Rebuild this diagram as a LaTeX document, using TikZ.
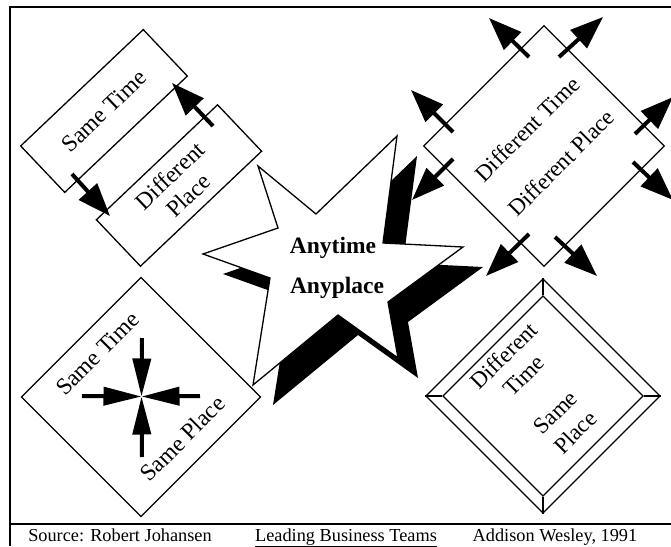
\documentclass[tikz,border=0pt]{standalone}
\usepackage{fontspec}
\setmainfont{Liberation Serif}
\usetikzlibrary{arrows.meta}
\begin{document}
\begin{tikzpicture}[x=1pt,y=-1pt,
  frameline/.style={line width=1.8pt},
  shapebox/.style={draw, line width=1.3pt, fill=white, inner sep=0pt},
  lbl/.style={font=\fontsize{23.5}{27}\selectfont},
  bigarrow/.style={line width=4pt, -{Triangle[length=33pt,width=24pt]}},
  ctrarrow/.style={line width=4pt, -{Triangle[length=38pt,width=18pt]}},
  foot/.style={font=\fontsize{18.3}{22}\selectfont, inner sep=0pt},
  startext/.style={font=\fontsize{23.5}{28}\selectfont\bfseries, inner sep=0pt}]
\useasboundingbox (0,0) rectangle (671,546);
% frame
\draw[frameline] (10,546) -- (10,7) -- (671,7);
\draw[frameline] (10,524) -- (671,524);
% top-left rectangles
\node[shapebox, lbl, rotate=43.5, minimum width=169pt, minimum height=64pt] (st) at (104,111) {Same Time};
\node[shapebox, lbl, rotate=43.5, minimum width=167pt, minimum height=64pt, align=center] (dp) at (179,185.5) {Different\\Place};
\draw[bigarrow] (72,174) -- (110,216);
\draw[bigarrow] (213,126) -- (172,83);
% top-right diamond
\node[shapebox, rotate=45, minimum size=170pt, align=center, font=\fontsize{23}{48}\selectfont] (dd) at (544,146) {Different Time\\Different Place};
\draw[bigarrow] (529,57) -- (489,18);
\draw[bigarrow] (559,57) -- (603,17);
\draw[bigarrow] (453,132) -- (411,90);
\draw[bigarrow] (635,134) -- (673,97);
\draw[bigarrow] (453,159) -- (412,200);
\draw[bigarrow] (633,162) -- (673,200);
\draw[bigarrow] (529,234) -- (486,276);
\draw[bigarrow] (555,237) -- (597,276);
% bottom-left diamond
\node[shapebox, rotate=45, minimum size=169pt] (ss) at (141,397) {};
\node[lbl, rotate=45] (sst) at (97.6,353.6) {Same Time};
\node[lbl, rotate=45] (ssp) at (182.4,438.4) {Same Place};
\coordinate (ctr) at (141.5,396.5);
\draw[ctrarrow] (142,338) -- (ctr);
\draw[ctrarrow] (142,457) -- (ctr);
\draw[ctrarrow] (82,396) -- (ctr);
\draw[ctrarrow] (200,396) -- (ctr);
% bottom-right beveled diamond
\node[shapebox, rotate=45, minimum size=165.5pt] (bo) at (543,396) {};
\node[shapebox, rotate=45, minimum size=141.5pt] (bi) at (543,396) {};
\draw[line width=1.3pt] (bo.north east) -- (bi.north east)
  (bo.north west) -- (bi.north west)
  (bo.south west) -- (bi.south west)
  (bo.south east) -- (bi.south east);
\node[rotate=45, align=center, font=\fontsize{23}{28}\selectfont] (dt) at (513.5,365.5) {Different\\Time};
\node[rotate=45, align=center, font=\fontsize{23}{28}\selectfont] (sp) at (565.5,422.5) {Same\\Place};
% star with shadow
\fill[black, shift={(20,20)}] (258,166) -- (316,214) -- (397,136) -- (383,243) -- (463,247) -- (388,302) -- (398,358) -- (338,315) -- (253,385) -- (270,278) -- (203,254) -- (278,228) -- cycle;
\draw[line width=1.3pt, fill=white] (258,166) -- (316,214) -- (397,136) -- (383,243) -- (463,247) -- (388,302) -- (398,358) -- (338,315) -- (253,385) -- (270,278) -- (203,254) -- (278,228) -- cycle;
\node[startext, anchor=base] (any1) at (333,253) {Anytime};
\node[startext, anchor=base] (any2) at (337,293) {Anyplace};
% footer
\node[foot, anchor=base] (src) at (120,541) {Source: Robert Johansen};
\node[foot, anchor=base] (book) at (346,541) {\underline{Leading Business Teams}};
\node[foot, anchor=base] (pub) at (555,541) {Addison Wesley, 1991};
\end{tikzpicture}
\end{document}
